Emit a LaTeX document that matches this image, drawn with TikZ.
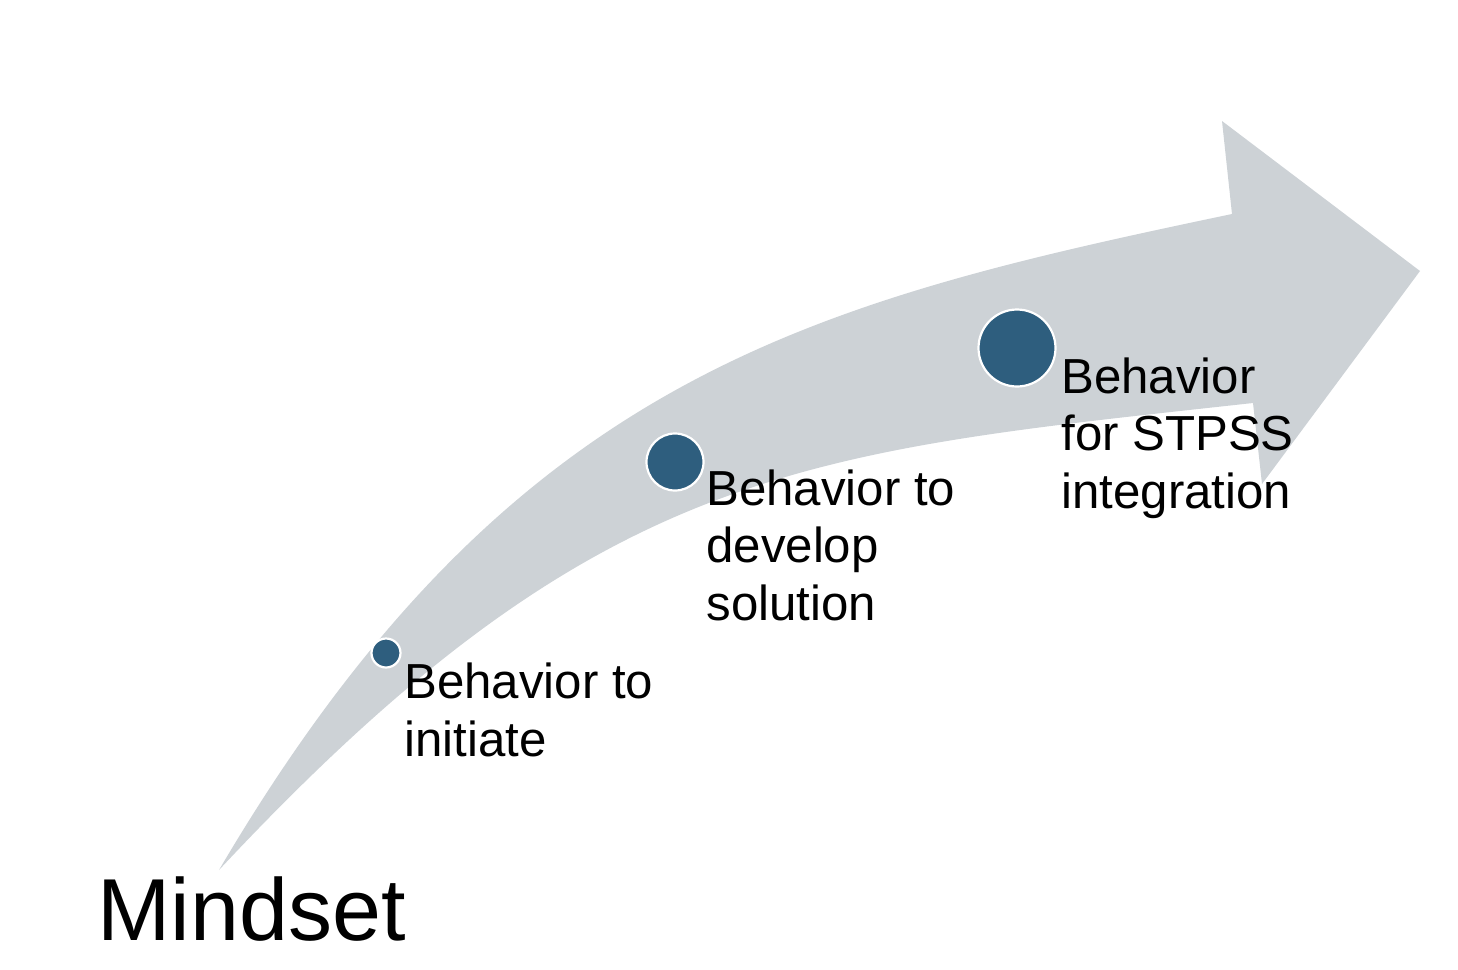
\documentclass[tikz,border=0pt]{standalone}
\usepackage{fontspec}
\setmainfont{Liberation Sans}
\definecolor{bandgray}{RGB}{205,210,214}
\definecolor{dotblue}{RGB}{46,94,126}
\tikzset{
  dot/.style={circle, fill=dotblue, draw=white, line width=1.1pt, inner sep=0pt},
  label/.style={anchor=base west, inner sep=0pt, align=left, font=\fontsize{24.6}{28.75}\selectfont},
  title/.style={anchor=base west, inner sep=0pt, font=\fontsize{44}{50}\selectfont}
}
\begin{document}
\begin{tikzpicture}[x=0.5pt, y=-0.5pt]
\useasboundingbox (0,0) rectangle (1458,970);
% curved arrow band
\fill[bandgray]
  (219,870) .. controls (509,377) and (807,303) .. (1232,214)
  -- (1222,121) -- (1420,271) -- (1262,484) -- (1253,403)
  .. controls (803,452.5) and (599,463.4) .. (219,870)
  -- cycle;
% dots
\node[dot, minimum size=14.5pt] (c1) at (386,653) {};
\node[dot, minimum size=28.5pt] (c2) at (675,462) {};
\node[dot, minimum size=38.5pt] (c3) at (1017,348) {};
% labels (base anchor = baseline of the last line)
\node[label] (t1) at (404,756) {Behavior to\\initiate};
\node[label] (t2) at (706,620) {Behavior to\\develop\\solution};
\node[label] (t3) at (1061,508) {Behavior\\for STPSS\\integration};
\node[title] (m) at (97,940) {Mindset};
\end{tikzpicture}
\end{document}
